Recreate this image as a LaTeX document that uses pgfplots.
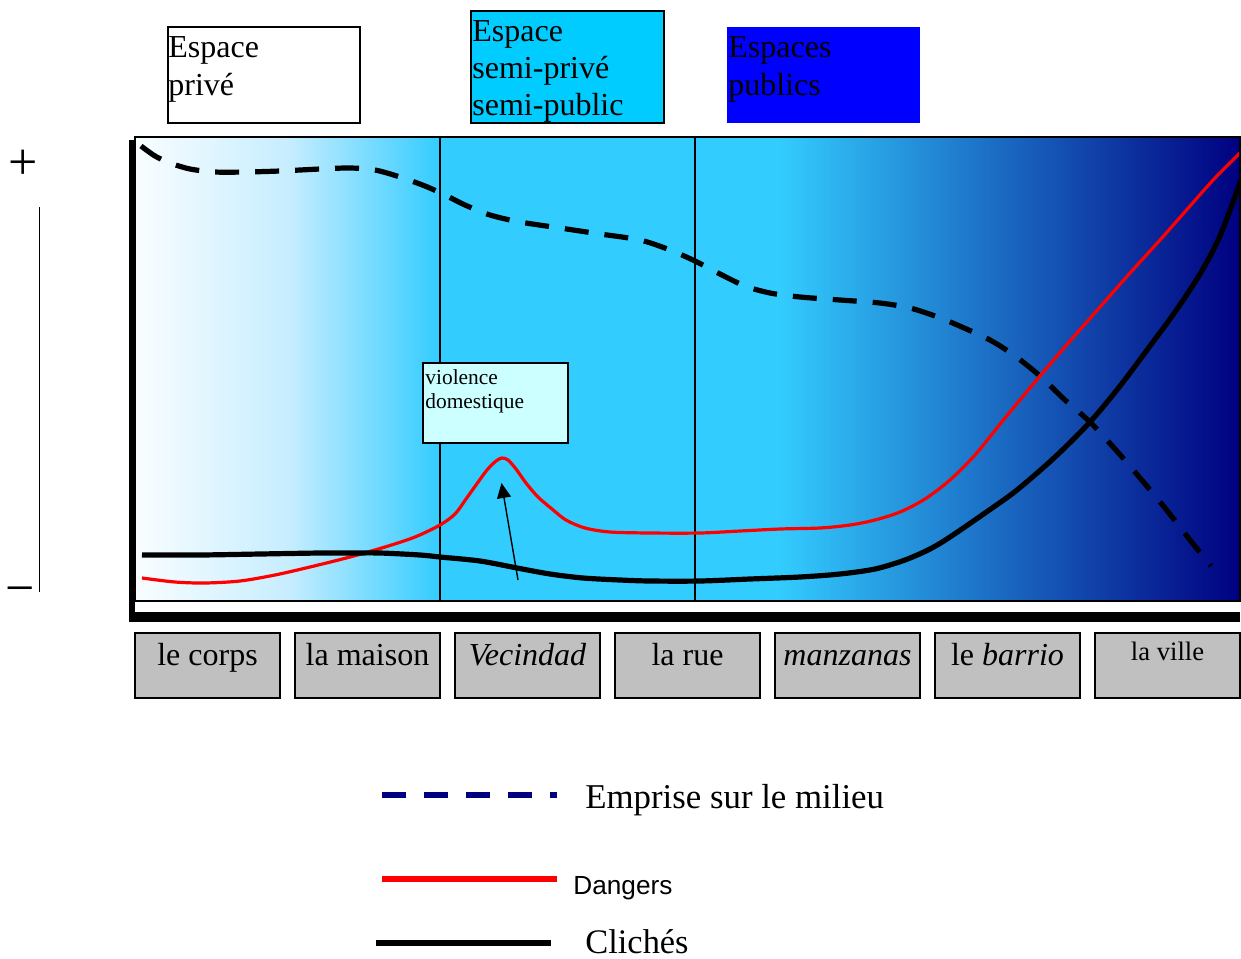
\documentclass[border=0pt]{standalone}
\usepackage{pgfplots}
\pgfplotsset{compat=1.18}
\usepackage{fontspec}
\setmainfont{Liberation Serif}
\newfontfamily\arialf{Liberation Sans}
\usetikzlibrary{arrows.meta}
\definecolor{skyc}{HTML}{33CCFF}
\definecolor{palec}{HTML}{C6EDFF}
\definecolor{navyc}{HTML}{000080}
\definecolor{cyanbox}{HTML}{00CCFF}
\definecolor{bluebox}{HTML}{0000FF}
\definecolor{violbox}{HTML}{CCFFFF}
\definecolor{catgray}{HTML}{C0C0C0}

% curves in picture pixels (x right, y down)
\pgfplotstableread{
x y
141 146
155 156
170 163
190 169
215 172
245 172
280 171
320 169
350 168
375 170
400 177
425 186
445 195
465 205
490 215
520 222
560 228
600 234
640 240
670 250
695 261
720 274
745 286
770 293
800 297
840 300
880 303
910 308
935 316
955 324
990 340
1015 356
1040 376
1065 400
1090 422
1115 449
1135 472
1165 508
1190 540
1211 566
}\emprise

\pgfplotstableread{
x y
142 578
175 582
205 583
240 581
275 575
310 567
350 557
385 547
415 537
440 525
455 514
466 499
476 485
487 470
496 461
502 458
508 460
516 469
526 483
538 497
552 509
566 520
585 528
610 532
650 533
700 533
740 531
780 529
820 528
850 525
875 520
900 512
925 499
950 480
975 455
1005 418
1040 376
1070 341
1100 307
1130 273
1160 240
1190 206
1215 178
1241 152
}\dangers

\pgfplotstableread{
x y
142 555
200 555
260 554
320 553
350 553
380 553
420 555
440 557
480 561
517 568
550 574
583 578
620 580
650 581
700 581
750 579
800 577
840 574
875 569
905 560
930 549
950 537
985 513
1017 490
1055 457
1090 422
1120 386
1150 346
1175 312
1200 274
1220 236
1241 180
}\cliches

\newcommand\catbox[3]{%
  \draw[line width=0.75pt, fill=catgray] (axis cs:#1,633) rectangle (axis cs:#2,698);
  \node[anchor=base, inner sep=0pt, font=\fontsize{16}{19}\selectfont] at (axis cs:#1/2+#2/2,665) {#3};}

\begin{document}
\begin{tikzpicture}
\begin{axis}[
 scale only axis, width=552.5pt, height=232pt,
 xmin=135, xmax=1240, ymin=137, ymax=601, y dir=reverse,
 xtick=\empty, ytick=\empty,
 axis line style={line width=0.75pt},
 clip=false, axis on top,
]
% page frame corners
\coordinate (bbA) at (axis cs:0,0);
\coordinate (bbB) at (axis cs:1241,958);
% background shading
\shade[left color=white!97!skyc, right color=palec, draw=none]
  (axis cs:135,137) rectangle (axis cs:290,601);
\shade[left color=palec, right color=skyc, draw=none]
  (axis cs:289.5,137) rectangle (axis cs:440,601);
\fill[skyc] (axis cs:439.5,137) rectangle (axis cs:780,601);
\shade[left color=skyc, right color=navyc, draw=none]
  (axis cs:779.5,137) rectangle (axis cs:1240,601);
\draw[line width=0.75pt] (axis cs:440,137) -- (axis cs:440,601);
\draw[line width=0.75pt] (axis cs:695,137) -- (axis cs:695,601);
% thick bars
\fill[black] (axis cs:129,140) rectangle (axis cs:135.5,621);
\fill[black] (axis cs:129,612) rectangle (axis cs:1240,622);

\addplot[black, line width=2.6pt, dash pattern=on 12pt off 8pt, smooth, tension=0.5] table[x=x,y=y] {\emprise};
\addplot[red, line width=1.6pt, smooth, tension=0.5] table[x=x,y=y] {\dangers};
\addplot[black, line width=2.6pt, smooth, tension=0.5] table[x=x,y=y] {\cliches};

% violence domestique
\draw[line width=0.75pt, fill=violbox] (axis cs:423,363) rectangle (axis cs:568,443);
\node[anchor=base west, inner sep=0pt, font=\fontsize{10.7}{12}\selectfont] at (axis cs:425,384) {violence};
\node[anchor=base west, inner sep=0pt, font=\fontsize{10.7}{12}\selectfont] at (axis cs:425,408) {domestique};
\draw[line width=0.7pt, -{Triangle[length=7.5pt, width=7pt]}] (axis cs:518,580) -- (axis cs:501.5,483);

% top boxes
\draw[line width=0.75pt, fill=white] (axis cs:168,27) rectangle (axis cs:360,123);
\draw[line width=0.75pt, fill=cyanbox] (axis cs:471,11) rectangle (axis cs:664,123);
\fill[bluebox] (axis cs:727,27) rectangle (axis cs:920,123);
\begin{scope}[every node/.style={anchor=base west, inner sep=0pt, font=\fontsize{16}{19}\selectfont}]
\node at (axis cs:168,57) {Espace};
\node at (axis cs:168,95) {privé};
\node at (axis cs:472,41) {Espace};
\node at (axis cs:472,78) {semi-privé};
\node at (axis cs:472,115) {semi-public};
\node at (axis cs:728,57) {Espaces};
\node at (axis cs:728,95) {publics};
\end{scope}

% +/- scale
\node[inner sep=0pt, font=\fontsize{26}{30}\selectfont] at (axis cs:23.5,165) {+};
\node[inner sep=0pt, font=\fontsize{26}{30}\selectfont] at (axis cs:20,596) {−};
\draw[line width=0.75pt] (axis cs:39.5,207) -- (axis cs:39.5,592);

% category boxes
\catbox{135}{280}{le corps}
\catbox{295}{440}{la maison}
\catbox{455}{600}{\itshape Vecindad}
\catbox{615}{760}{la rue}
\catbox{775}{920}{\itshape manzanas}
\catbox{935}{1080}{le \itshape barrio}
\draw[line width=0.75pt, fill=catgray] (axis cs:1095,633) rectangle (axis cs:1240,698);
\node[anchor=base, inner sep=0pt, font=\fontsize{13.3}{16}\selectfont] at (axis cs:1167.5,660) {la ville};

% legend
\draw[navyc, line width=3pt, dash pattern=on 12pt off 9pt] (axis cs:382,795) -- (axis cs:557,795);
\node[anchor=base west, inner sep=0pt, font=\fontsize{17.4}{20}\selectfont] at (axis cs:585,808) {Emprise sur le milieu};
\draw[red, line width=2.6pt] (axis cs:382,879) -- (axis cs:557,879);
\node[anchor=base west, inner sep=0pt, font=\arialf\fontsize{13.1}{16}\selectfont] at (axis cs:573,894) {Dangers};
\draw[black, line width=3pt] (axis cs:376,943) -- (axis cs:551,943);
\node[anchor=base west, inner sep=0pt, font=\fontsize{17.2}{20}\selectfont] at (axis cs:585,953) {Clichés};
\end{axis}
\pgfresetboundingbox
\path (bbA) rectangle (bbB);
\end{tikzpicture}
\end{document}
